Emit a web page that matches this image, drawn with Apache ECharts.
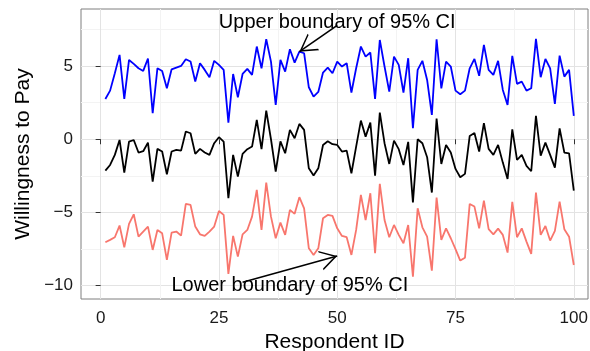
<!DOCTYPE html>
<html>
<head>
<meta charset="utf-8">
<script src="https://cdn.jsdelivr.net/npm/echarts@6/dist/echarts.min.js"></script>
<style>
html, body { margin: 0; padding: 0; background: #fff; }
#wtp { width: 590px; height: 351px; }
</style>
</head>
<body>
<div id="wtp"></div>
<script>
var respondent = [1,2,3,4,5,6,7,8,9,10,11,12,13,14,15,16,17,18,19,20,
    21,22,23,24,25,26,27,28,29,30,31,32,33,34,35,36,37,38,39,40,
    41,42,43,44,45,46,47,48,49,50,51,52,53,54,55,56,57,58,59,60,
    61,62,63,64,65,66,67,68,69,70,71,72,73,74,75,76,77,78,79,80,
    81,82,83,84,85,86,87,88,89,90,91,92,93,94,95,96,97,98,99,100];

var upper = [2.76,3.33,4.52,5.78,2.76,5.43,5.16,4.86,4.68,5.53,
    1.78,4.86,4.68,3.49,4.79,4.91,5.02,5.48,5.32,3.95,
    5.21,4.75,4.25,5.37,5.09,4.75,1.14,4.47,2.88,4.47,
    4.82,4.41,6.35,4.86,6.85,5.32,2.35,5.43,4.63,6.16,
    5.25,6.00,5.89,3.56,2.92,3.24,4.57,4.91,4.52,5.32,
    4.98,5.21,3.20,4.86,6.35,5.66,5.94,2.76,6.80,4.98,
    3.26,5.66,5.09,3.20,5.55,0.75,4.75,5.37,4.06,1.67,
    6.85,3.49,5.32,4.98,3.33,3.08,3.33,4.86,5.50,4.34,
    6.46,4.75,4.41,5.37,3.38,2.35,5.71,3.79,3.95,3.33,
    3.49,6.87,4.25,5.50,4.86,2.42,5.73,4.29,4.75,1.60];

var estimate = [-2.15,-1.76,-1.07,-0.05,-2.28,-0.16,-0.05,-0.91,-0.82,-0.23,
    -2.90,-0.66,-0.84,-2.40,-0.84,-0.73,-0.78,0.53,0.41,-1.00,
    -0.66,-0.91,-1.07,-0.27,0.14,-0.16,-4.04,-1.07,-2.56,-1.00,
    -0.68,-0.50,1.32,-0.68,1.96,0.00,-2.21,-0.14,-0.96,0.64,
    0.07,1.05,0.64,-1.99,-2.49,-1.99,-0.39,-0.14,-0.34,-0.39,
    -0.84,-0.78,-2.33,-0.50,1.28,0.18,1.14,-2.49,1.83,-0.27,
    -1.69,-0.09,-0.68,-1.76,-0.18,-4.32,0.00,-0.27,-1.23,-3.65,
    1.42,-1.69,-0.39,-0.91,-2.03,-2.60,-2.37,0.23,0.43,-0.84,
    1.10,-0.66,-1.07,-0.39,-1.60,-2.72,0.68,-1.42,-1.07,-1.83,
    -2.19,1.60,-1.12,-0.23,-1.07,-1.94,0.75,-0.91,-0.96,-3.52];

var lower = [-7.05,-6.89,-6.71,-5.91,-7.40,-5.80,-5.14,-6.67,-6.32,-5.98,
    -7.58,-6.21,-6.44,-8.26,-6.39,-6.32,-6.60,-4.43,-4.50,-5.98,
    -6.51,-6.62,-6.32,-5.98,-4.91,-5.18,-9.22,-6.62,-8.04,-6.51,
    -6.21,-5.30,-3.47,-6.21,-2.97,-5.30,-6.78,-5.71,-6.55,-4.84,
    -5.11,-3.97,-4.73,-7.47,-7.92,-7.47,-5.41,-5.18,-5.25,-6.10,
    -6.62,-6.71,-7.92,-6.21,-3.81,-5.53,-3.70,-7.81,-3.06,-5.53,
    -6.71,-5.87,-6.55,-7.12,-5.87,-9.41,-4.73,-6.03,-6.67,-9.00,
    -4.00,-6.89,-6.10,-6.78,-7.53,-8.31,-8.11,-4.43,-4.61,-6.10,
    -4.20,-6.16,-6.51,-6.12,-6.55,-7.76,-4.29,-6.71,-6.10,-7.01,
    -7.85,-3.65,-6.55,-5.94,-6.94,-6.28,-4.27,-6.16,-6.67,-8.61];

var xTicks = [0, 25, 50, 75, 100];
var xMinor = [12.5, 37.5, 62.5, 87.5];
var yTicks = [-10, -5, 0, 5];
var yMinor = [-7.5, -2.5, 2.5, 7.5];

// annotation texts and where they sit (data units)
var labels = ['Upper boundary of 95% CI', 'Lower boundary of 95% CI'];
var labelAt = [[50, 8], [40, -10]];
var arrows = [[[50, 7.8], [42, 6]], [[30, -9.8], [50, -8]]];

var font = 'Liberation Sans, Arial, Helvetica, sans-serif';

function pairs(ys) {
    return ys.map(function (y, i) { return [respondent[i], y]; });
}
function minus(v) {
    return String(v).replace('-', '\u2212');
}

var chart = echarts.init(document.getElementById('wtp'));

// open chevron, tip at the centre of its box so it lands on the end point
var chevron = 'path://M10,-17 L10,-17 M0,17 L10,0 L20,17 L18.3,17 L10,3 L1.7,17 Z';

var opt = {
    animation: false,
    backgroundColor: '#fff',
    textStyle: { fontFamily: font },
    grid: {
        left: 81, right: 2, top: 9, bottom: 52,
        outerBoundsMode: 'none', containLabel: false,
        show: true, borderColor: '#7f7f7f', borderWidth: 1, backgroundColor: 'transparent'
    },
    xAxis: [{
        type: 'value', min: -4.15, max: 103,
        name: 'Respondent ID', nameLocation: 'middle', nameGap: 30,
        nameTextStyle: { fontSize: 21, color: '#000', fontFamily: font },
        axisLine: { show: false },
        axisTick: { show: true, length: 5, customValues: xTicks, lineStyle: { color: '#333' } },
        axisLabel: { customValues: xTicks, fontSize: 17, color: '#1a1a1a', margin: 11, fontFamily: font },
        splitLine: { show: true, lineStyle: { color: '#e3e3e3', width: 1 } }
    }, {
        type: 'value', min: -4.15, max: 103, position: 'bottom',
        axisLine: { show: false },
        axisTick: { show: false, customValues: xMinor },
        axisLabel: { show: false, customValues: xMinor },
        splitLine: { show: true, lineStyle: { color: '#f3f3f3', width: 1 } }
    }],
    yAxis: [{
        type: 'value', min: -10.94, max: 8.92,
        name: 'Willingness to Pay', nameLocation: 'middle', nameGap: 45,
        nameTextStyle: { fontSize: 21, color: '#000', fontFamily: font },
        axisLine: { show: false },
        axisTick: { show: true, length: 5, customValues: yTicks, lineStyle: { color: '#333' } },
        axisLabel: { customValues: yTicks, fontSize: 17, color: '#1a1a1a', margin: 8,
            fontFamily: font, formatter: minus },
        splitLine: { show: true, lineStyle: { color: '#e3e3e3', width: 1 } }
    }, {
        type: 'value', min: -10.94, max: 8.92, position: 'left',
        axisLine: { show: false },
        axisTick: { show: false, customValues: yMinor },
        axisLabel: { show: false, customValues: yMinor },
        splitLine: { show: true, lineStyle: { color: '#f3f3f3', width: 1 } }
    }],
    series: [
        {
            name: 'upper', type: 'line', data: pairs(upper),
            showSymbol: false, silent: true,
            lineStyle: { color: '#0000ff', width: 1.8 }
        },
        {
            name: 'estimate', type: 'line', data: pairs(estimate),
            showSymbol: false, silent: true,
            lineStyle: { color: '#000', width: 1.8 },
            markLine: {
                silent: true, animation: false,
                symbol: ['none', chevron], symbolSize: [20, 34],
                label: { show: false },
                lineStyle: { color: '#000', width: 1.6, type: 'solid' },
                emphasis: { disabled: true },
                data: arrows.map(function (a) {
                    return [{ coord: a[0] }, { coord: a[1] }];
                })
            },
            markPoint: {
                silent: true, symbol: 'circle', symbolSize: 0,
                label: {
                    show: true, position: 'inside', formatter: '{b}',
                    fontSize: 20, color: '#000', fontFamily: font
                },
                data: labels.map(function (t, i) {
                    return { name: t, coord: labelAt[i] };
                })
            }
        },
        {
            name: 'lower', type: 'line', data: pairs(lower),
            showSymbol: false, silent: true,
            lineStyle: { color: '#f8766d', width: 1.8 }
        }
    ]
};

chart.setOption(opt);
</script>
</body>
</html>
